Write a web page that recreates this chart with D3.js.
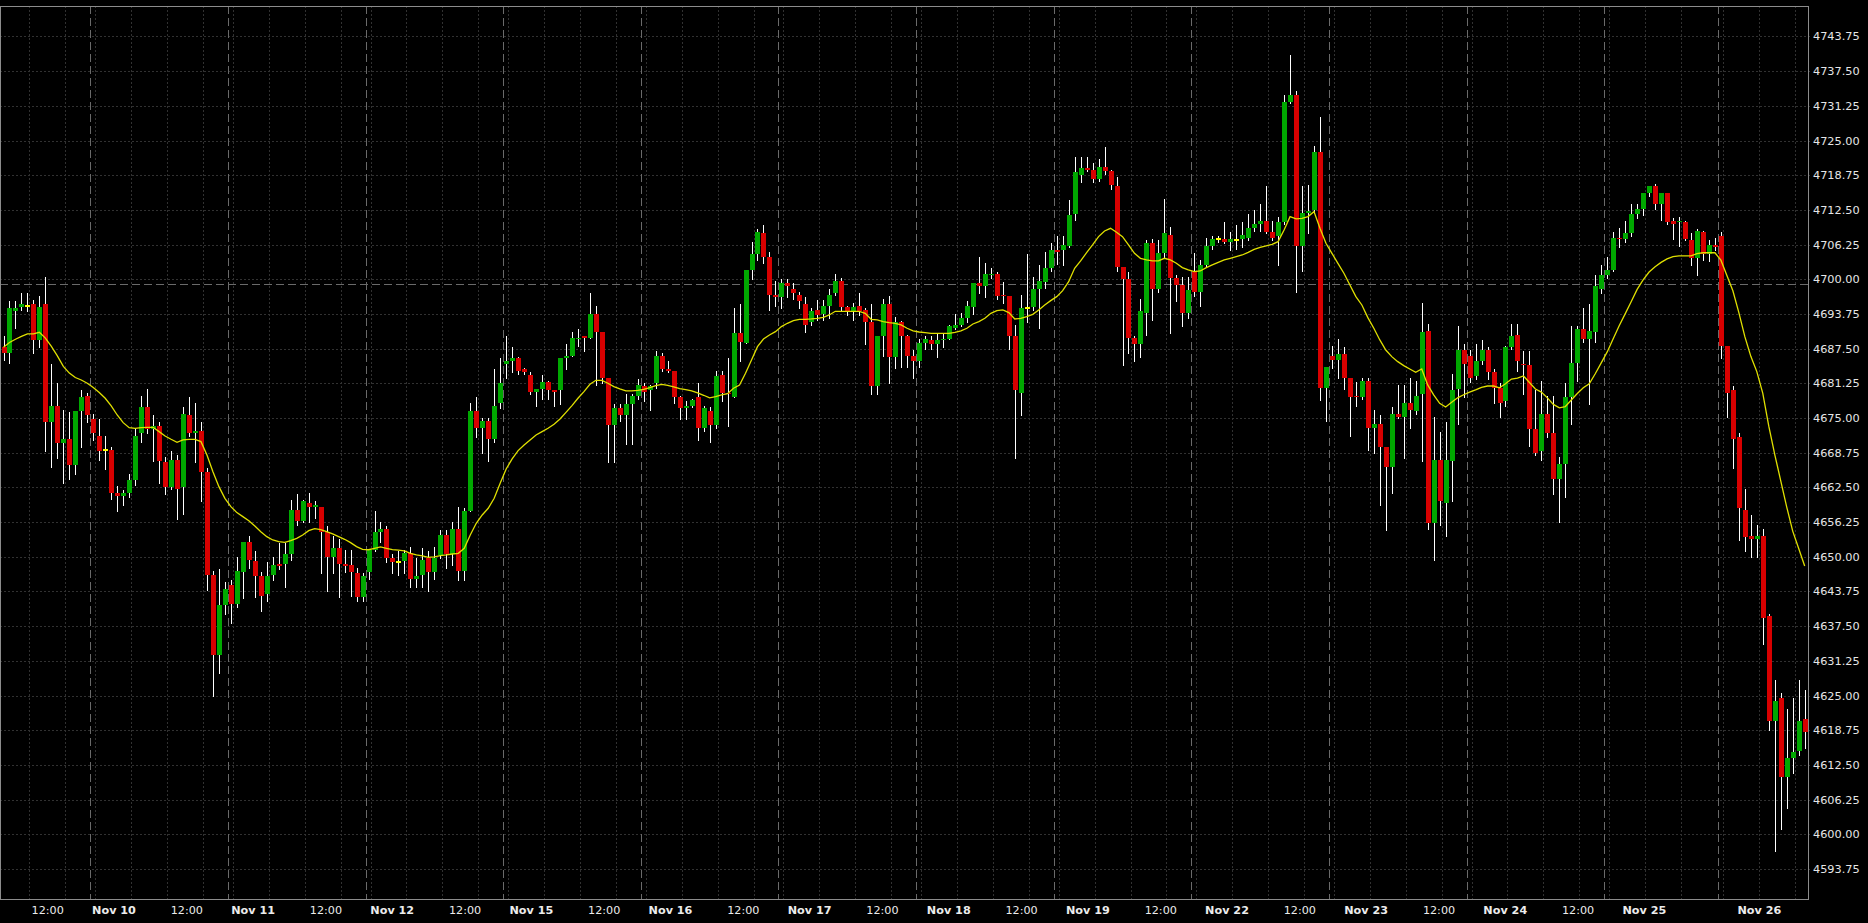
<!DOCTYPE html>
<html><head><meta charset="utf-8">
<script src="https://cdn.jsdelivr.net/npm/d3@7"></script>
<style>html,body{margin:0;padding:0;background:#000;overflow:hidden}</style>
</head><body><svg id="c" width="1868" height="923"></svg>
<script>
// ---- data (hourly bars, ES futures, Nov 9 - Nov 26) ----
const opens=[
4687.75,4686.75,4694.25,4695.0,4695.25,4695.5,4689.0,4695.5,4674.25,4677.25,
4670.5,4671.25,4666.5,4676.25,4679.0,4674.75,4671.75,4669.25,4669.25,4661.5,
4661.0,4661.5,4663.75,4672.25,4677.0,4673.0,4673.5,4667.0,4662.5,4667.5,
4662.5,4675.5,4672.25,4672.75,4665.25,4646.75,4632.25,4641.25,4645.0,4641.5,
4647.25,4652.75,4649.25,4646.5,4643.25,4646.75,4648.75,4648.75,4650.5,4658.5,
4656.5,4659.75,4659.0,4659.0,4654.5,4650.0,4651.5,4648.75,4648.5,4647.0,
4642.75,4647.25,4651.25,4654.5,4655.0,4649.75,4649.0,4649.25,4650.75,4646.0,
4646.75,4649.75,4647.25,4650.25,4654.0,4650.5,4655.0,4647.5,4658.25,4676.25,
4673.25,4674.5,4671.25,4677.75,4684.75,4685.25,4685.75,4683.75,4682.75,4679.75,
4680.25,4681.5,4680.0,4680.0,4685.75,4686.25,4689.25,4689.75,4689.5,4693.75,
4690.5,4682.25,4673.75,4676.75,4675.5,4677.5,4679.0,4680.75,4680.0,4681.25,
4686.25,4683.75,4683.5,4678.75,4676.75,4677.25,4678.75,4673.25,4676.25,4673.75,
4682.75,4679.5,4678.75,4690.25,4688.5,4701.75,4704.5,4708.25,4704.0,4697.25,
4696.75,4699.25,4698.25,4697.25,4695.5,4692.25,4694.5,4693.75,4695.25,4697.5,
4699.75,4695.0,4694.25,4695.25,4694.5,4692.25,4680.75,4689.75,4695.5,4686.0,
4692.25,4689.75,4686.25,4685.25,4688.5,4689.0,4688.25,4689.0,4689.25,4691.25,
4691.75,4693.0,4695.0,4699.25,4698.75,4700.75,4701.0,4697.25,4697.0,4689.75,
4679.5,4694.75,4695.0,4698.25,4699.5,4702.0,4705.25,4705.25,4706.0,4711.75,
4718.75,4720.0,4719.75,4718.0,4720.25,4719.5,4716.75,4702.25,4700.0,4689.5,
4688.25,4694.0,4706.5,4698.25,4704.75,4708.0,4700.25,4699.0,4694.0,4701.25,
4697.75,4702.5,4706.0,4707.25,4707.25,4706.75,4707.0,4707.25,4707.5,4709.25,
4710.0,4710.5,4708.5,4707.75,4710.25,4732.0,4733.25,4706.0,4712.0,4712.5,
4723.0,4680.5,4686.25,4685.5,4686.5,4682.25,4679.0,4678.75,4681.75,4673.25,
4674.0,4669.75,4666.25,4675.75,4675.25,4677.75,4676.25,4679.25,4690.75,4656.0,
4667.5,4659.75,4667.25,4680.25,4687.25,4686.25,4682.5,4685.25,4687.25,4683.25,
4680.5,4678.0,4687.75,4690.0,4684.75,4684.5,4673.0,4669.0,4675.75,4672.25,
4664.0,4666.75,4678.75,4685.0,4691.0,4689.25,4690.5,4698.25,4700.75,4701.75,
4707.5,4707.25,4708.25,4711.75,4712.75,4715.5,4716.75,4713.5,4715.5,4710.5,
4710.25,4710.25,4707.0,4703.75,4708.5,4704.5,4706.25,4707.75,4688.0,4680.0,
4671.5,4658.5,4653.75,4653.25,4653.75,4639.25,4620.5,4624.5,4610.25,4613.75,
4615.0,4620.75];
const highs=[
4689.75,4696.0,4696.0,4697.5,4697.5,4696.25,4697.0,4700.5,4684.75,4681.25,
4676.5,4676.0,4676.25,4680.0,4679.5,4675.75,4674.75,4671.75,4669.75,4662.75,
4662.0,4665.0,4673.0,4679.0,4680.25,4675.5,4674.25,4668.0,4669.0,4668.25,
4677.0,4678.75,4677.75,4674.25,4666.0,4647.5,4647.75,4645.5,4645.75,4650.0,
4652.75,4653.75,4651.0,4647.25,4649.0,4650.0,4652.5,4652.5,4660.25,4661.25,
4660.25,4661.5,4660.0,4659.0,4655.5,4653.75,4653.25,4651.25,4651.25,4648.0,
4647.0,4651.25,4658.25,4656.25,4655.5,4650.5,4651.0,4651.25,4651.75,4649.75,
4651.5,4651.0,4651.75,4654.75,4654.75,4656.25,4659.0,4658.75,4677.75,4678.75,
4675.0,4675.0,4683.75,4685.75,4689.75,4687.75,4686.0,4684.0,4683.25,4680.25,
4682.75,4681.75,4680.0,4685.75,4688.25,4690.5,4691.0,4689.75,4697.5,4695.25,
4690.5,4682.25,4677.5,4677.5,4679.25,4679.25,4682.0,4681.25,4681.0,4687.0,
4686.75,4685.25,4683.5,4679.0,4678.0,4678.5,4681.25,4677.25,4677.0,4683.5,
4683.5,4685.75,4694.75,4695.5,4701.75,4706.75,4709.0,4709.75,4705.0,4699.75,
4700.0,4700.0,4699.25,4697.75,4696.75,4694.75,4696.25,4696.25,4698.25,4701.0,
4700.25,4695.25,4695.75,4697.5,4694.75,4695.5,4689.75,4696.5,4697.0,4693.25,
4692.5,4690.0,4687.25,4689.25,4689.75,4689.75,4690.25,4690.25,4691.75,4693.75,
4694.0,4696.0,4699.25,4704.0,4703.0,4702.0,4701.25,4699.5,4697.0,4691.75,
4697.25,4704.5,4700.5,4702.5,4705.0,4706.5,4707.75,4707.75,4714.25,4722.0,
4722.0,4722.0,4721.0,4721.75,4723.75,4719.75,4718.5,4702.25,4701.25,4689.75,
4696.5,4707.0,4707.25,4707.0,4714.5,4709.5,4700.75,4700.5,4700.5,4704.75,
4703.5,4707.5,4707.75,4707.75,4710.25,4708.5,4709.75,4710.25,4711.75,4712.5,
4713.5,4716.75,4710.5,4711.25,4733.25,4740.5,4734.0,4716.75,4717.0,4724.0,
4729.25,4684.25,4688.0,4689.25,4687.75,4682.25,4681.5,4682.25,4682.25,4676.5,
4675.5,4669.75,4677.0,4681.0,4681.0,4682.25,4681.75,4695.75,4692.0,4675.25,
4672.5,4674.25,4683.0,4691.5,4688.25,4687.25,4688.25,4689.0,4687.75,4683.75,
4681.25,4688.0,4692.0,4692.0,4687.0,4687.0,4680.0,4681.75,4679.0,4679.0,
4668.0,4681.25,4691.5,4691.5,4694.75,4695.5,4700.75,4702.5,4704.0,4708.5,
4709.25,4710.5,4713.5,4713.5,4715.5,4716.75,4717.25,4715.5,4715.5,4711.0,
4711.25,4710.5,4708.25,4709.0,4708.75,4707.0,4707.5,4708.5,4688.0,4680.75,
4672.25,4662.25,4657.5,4655.75,4655.0,4639.75,4627.75,4625.5,4622.5,4624.5,
4627.75,4626.0];
const lows=[
4685.5,4685.0,4691.25,4694.5,4694.25,4686.75,4687.75,4669.0,4666.25,4667.75,
4663.25,4664.0,4665.0,4669.75,4674.25,4671.0,4667.5,4665.75,4660.5,4658.25,
4659.25,4660.75,4663.0,4670.75,4672.25,4667.25,4663.25,4661.25,4662.25,4656.75,
4657.75,4671.75,4667.0,4660.0,4644.0,4625.0,4629.0,4639.75,4638.0,4641.0,
4642.5,4648.0,4642.75,4640.25,4642.0,4645.75,4647.75,4644.5,4649.5,4655.75,
4656.25,4656.25,4657.0,4647.0,4643.75,4647.0,4642.75,4647.25,4643.0,4642.0,
4642.0,4646.0,4651.0,4652.75,4649.0,4647.0,4646.75,4647.0,4644.5,4644.5,
4644.5,4643.75,4646.0,4649.75,4648.0,4648.5,4645.75,4645.75,4658.25,4671.5,
4668.75,4667.25,4670.75,4676.75,4682.25,4683.25,4683.0,4683.0,4679.25,4677.25,
4678.5,4678.5,4677.25,4677.5,4683.75,4686.25,4688.0,4687.0,4689.5,4681.0,
4681.25,4667.0,4667.0,4674.5,4670.25,4670.25,4678.5,4678.0,4676.5,4680.5,
4683.5,4683.25,4677.75,4674.75,4674.75,4677.0,4671.0,4672.75,4670.75,4673.25,
4678.0,4673.5,4678.75,4685.25,4688.5,4700.0,4703.5,4703.0,4694.5,4695.25,
4694.75,4696.75,4696.5,4694.75,4690.5,4691.75,4692.75,4692.75,4693.0,4697.25,
4694.25,4693.5,4692.75,4693.5,4688.25,4679.25,4679.25,4686.25,4681.25,4684.0,
4684.25,4684.25,4682.25,4684.25,4687.5,4687.5,4686.0,4687.75,4689.25,4691.0,
4691.5,4692.25,4693.75,4697.5,4696.75,4700.25,4696.5,4695.75,4687.5,4667.75,
4675.5,4692.25,4694.5,4691.25,4698.5,4701.5,4702.75,4702.5,4705.75,4710.75,
4717.5,4719.5,4717.5,4717.75,4719.0,4716.25,4701.5,4684.5,4686.75,4685.25,
4686.0,4690.0,4692.75,4697.75,4704.0,4690.25,4696.0,4691.5,4693.0,4697.0,
4695.25,4702.25,4705.5,4706.75,4706.5,4705.25,4705.5,4705.75,4707.0,4708.75,
4708.75,4708.25,4707.0,4702.5,4710.0,4731.75,4697.75,4701.5,4708.25,4712.0,
4678.25,4674.5,4684.0,4682.25,4680.25,4671.75,4677.25,4678.5,4669.25,4668.75,
4659.25,4654.75,4661.5,4675.0,4667.75,4673.25,4675.75,4667.25,4655.0,4649.5,
4655.75,4653.75,4660.0,4674.0,4678.75,4681.5,4682.0,4684.75,4682.0,4677.75,
4675.25,4677.25,4687.5,4683.5,4679.25,4670.0,4668.25,4667.5,4671.5,4661.25,
4656.25,4660.75,4674.0,4681.75,4688.75,4677.5,4688.75,4697.5,4700.25,4701.5,
4705.75,4706.75,4707.75,4711.0,4711.5,4715.0,4712.75,4710.75,4710.0,4707.25,
4706.0,4707.0,4702.5,4700.75,4703.5,4703.25,4705.25,4685.75,4675.25,4666.0,
4653.0,4651.0,4650.0,4650.0,4634.25,4618.75,4597.0,4601.0,4604.75,4611.0,
4614.25,4615.5];
const closes=[
4686.75,4694.75,4694.75,4695.5,4695.25,4689.0,4695.0,4674.25,4677.25,4670.5,
4671.25,4666.5,4676.25,4678.75,4675.5,4672.25,4669.0,4669.25,4661.5,4661.0,
4661.5,4663.75,4671.75,4677.0,4673.0,4673.5,4667.25,4662.5,4667.5,4662.25,
4675.75,4672.25,4672.75,4665.25,4646.75,4632.25,4641.25,4644.25,4641.5,4647.5,
4652.75,4649.5,4646.5,4643.0,4646.5,4648.5,4648.25,4650.5,4658.5,4656.5,
4660.0,4659.0,4659.25,4654.5,4650.0,4651.5,4648.75,4648.25,4647.25,4642.75,
4646.5,4651.25,4654.5,4655.0,4649.75,4649.0,4649.0,4650.75,4646.0,4646.5,
4649.5,4647.25,4649.75,4654.0,4650.5,4655.0,4647.5,4658.25,4676.25,4673.25,
4674.5,4671.25,4677.25,4681.25,4685.25,4685.75,4683.5,4683.25,4679.75,4680.25,
4681.5,4680.0,4679.75,4685.75,4686.25,4689.5,4689.5,4689.5,4693.75,4690.5,
4682.25,4673.75,4676.75,4675.5,4677.5,4679.0,4681.0,4679.75,4680.75,4686.25,
4683.75,4683.5,4678.75,4676.75,4677.25,4678.25,4673.25,4676.75,4673.75,4682.5,
4679.5,4679.25,4690.25,4688.75,4701.75,4704.5,4708.5,4704.0,4697.25,4696.75,
4699.25,4698.75,4697.5,4696.0,4691.75,4694.25,4693.5,4695.25,4697.25,4699.75,
4695.0,4694.25,4695.0,4694.25,4692.25,4680.75,4689.75,4695.5,4686.0,4692.25,
4689.75,4686.25,4685.25,4688.5,4689.25,4688.25,4689.0,4689.25,4691.5,4691.75,
4693.0,4695.25,4699.25,4698.75,4701.0,4701.0,4697.0,4697.0,4689.75,4680.0,
4694.75,4694.75,4698.25,4699.75,4702.0,4705.25,4705.0,4706.25,4711.5,4719.25,
4720.0,4719.75,4718.0,4720.25,4719.5,4717.0,4702.25,4700.0,4689.5,4688.25,
4694.25,4706.5,4698.25,4704.75,4708.25,4700.25,4699.0,4694.0,4698.0,4697.75,
4702.5,4706.0,4707.25,4707.25,4706.75,4707.25,4707.0,4708.0,4709.25,4710.0,
4710.5,4708.5,4707.5,4710.25,4732.0,4733.25,4706.0,4712.0,4712.25,4723.0,
4680.5,4684.25,4685.5,4686.5,4682.25,4678.75,4678.75,4681.75,4673.25,4674.0,
4669.75,4666.25,4675.75,4675.25,4677.75,4676.5,4679.0,4690.5,4656.0,4667.5,
4660.0,4667.5,4680.0,4687.25,4684.75,4682.25,4685.25,4687.25,4683.25,4680.5,
4677.75,4687.75,4689.75,4685.25,4684.5,4673.0,4668.75,4675.75,4672.25,4664.0,
4666.75,4678.75,4685.0,4691.0,4689.25,4690.75,4698.75,4700.75,4701.75,4707.5,
4707.25,4708.25,4711.75,4712.75,4715.5,4716.75,4713.5,4715.5,4710.25,4710.0,
4710.5,4707.25,4703.75,4708.75,4704.5,4706.25,4705.75,4688.0,4679.5,4671.25,
4658.75,4653.5,4653.25,4653.75,4639.0,4620.5,4624.0,4610.25,4613.75,4614.75,
4620.5,4618.5];
// moving average (yellow line)
const maValues=[
4687.75,4688.6,4689.2,4689.7,4690.15,4690.15,4690.45,4689.4,4687.9,4686.2,
4684.3,4683.1,4682.3,4681.85,4681.26,4680.5,4679.6,4678.56,4677.2,4675.55,
4674.17,4673.27,4673.15,4673.27,4673.33,4673.33,4672.55,4671.77,4671.17,4670.63,
4671.05,4671.17,4671.17,4670.75,4668.35,4665.34,4662.64,4660.54,4659.04,4657.96,
4657.24,4656.5,4655.55,4654.53,4653.63,4653.03,4652.73,4652.6,4652.91,4653.33,
4653.93,4654.71,4655.07,4654.9,4654.53,4654.11,4653.63,4653.15,4652.55,4651.83,
4651.35,4651.27,4651.53,4651.77,4651.5,4651.3,4651.2,4651.05,4650.63,4650.33,
4650.15,4649.9,4650.0,4650.2,4650.33,4650.5,4650.63,4651.53,4653.93,4656.03,
4657.53,4658.74,4660.54,4663.24,4665.82,4667.63,4669.13,4670.15,4671.05,4671.95,
4672.55,4673.15,4673.87,4674.83,4676.03,4677.24,4678.56,4679.76,4681.08,4681.8,
4681.8,4681.26,4680.66,4680.24,4679.88,4679.88,4680.0,4680.18,4680.48,4680.84,
4681.08,4680.9,4680.6,4680.3,4680.12,4679.88,4679.52,4679.1,4678.62,4678.86,
4679.16,4679.4,4680.36,4680.96,4683.06,4685.46,4687.86,4689.24,4689.96,4690.56,
4691.47,4692.07,4692.55,4692.79,4692.79,4692.85,4692.97,4693.15,4693.57,4694.23,
4694.23,4694.23,4694.23,4694.23,4693.87,4692.79,4692.67,4692.37,4692.19,4692.07,
4691.77,4691.17,4690.69,4690.5,4690.39,4690.27,4690.27,4690.27,4690.27,4690.45,
4690.69,4691.17,4691.95,4692.37,4692.97,4693.87,4694.35,4694.47,4693.99,4692.85,
4692.97,4693.27,4693.69,4694.47,4695.37,4696.15,4696.87,4697.95,4699.57,4701.98,
4703.3,4704.8,4706.18,4707.69,4708.7,4709.18,4708.46,4707.69,4706.18,4704.68,
4703.78,4703.48,4703.3,4703.3,4703.78,4703.48,4702.88,4702.1,4701.68,4701.38,
4701.5,4702.1,4702.58,4703.06,4703.48,4703.78,4704.08,4704.38,4704.86,4705.4,
4705.76,4706.0,4706.3,4706.78,4708.88,4711.29,4710.87,4710.99,4711.29,4712.19,
4709.18,4706.48,4704.68,4702.88,4701.08,4698.98,4696.87,4695.37,4693.09,4691.17,
4689.07,4687.26,4686.06,4685.16,4684.44,4683.84,4683.24,4683.84,4680.96,4679.16,
4677.65,4677.0,4677.86,4678.64,4679.2,4679.67,4680.06,4680.53,4680.77,4680.77,
4680.45,4681.16,4682.03,4682.19,4682.58,4681.4,4680.22,4679.67,4678.64,4677.46,
4676.83,4677.07,4678.25,4679.43,4680.45,4681.16,4682.97,4684.94,4686.91,4689.27,
4691.63,4693.76,4695.96,4698.17,4699.9,4701.31,4702.26,4703.05,4703.68,4704.07,
4704.23,4704.23,4704.23,4704.62,4704.78,4704.78,4704.78,4703.44,4700.68,4697.93,
4694.0,4689.66,4686.12,4683.37,4679.43,4673.53,4668.41,4663.69,4658.96,4654.63,
4651.48,4648.33];
// session days: label and index of first bar
const dayLabels=["Nov 9","Nov 10","Nov 11","Nov 12","Nov 15","Nov 16","Nov 17","Nov 18","Nov 19","Nov 22","Nov 23","Nov 24","Nov 25","Nov 26"];
const dayStarts=[-8,15,38,61,84,107,130,153,176,199,222,245,268,287];
const noonLabelDays=["Nov 9","Nov 10","Nov 11","Nov 12","Nov 15","Nov 16","Nov 17","Nov 18","Nov 19","Nov 22","Nov 23","Nov 24"];
const priceTicks=[4593.75,4600.00,4606.25,4612.50,4618.75,4625.00,4631.25,4637.50,4643.75,4650.00,4656.25,4662.50,4668.75,4675.00,4681.25,4687.50,4693.75,4700.00,4706.25,4712.50,4718.75,4725.00,4731.25,4737.50,4743.75];
const levelLine=4699.1;

// ---- layout ----
const L=0,T=6,R=1808,B=899;
const n=closes.length;
const step=5.984;
const x=d3.scaleLinear().domain([0,n-1]).range([3.5,3.5+step*(n-1)]);
const y=d3.scaleLinear().domain([4588.34,4749.24]).range([B,T]);
const labelX=d3.scaleLinear().domain([15,287]).range([92.1,92.1+272*6.049]);

const svg=d3.select("#c");
svg.append("rect").attr("width",1868).attr("height",923).attr("fill","#000");
const gridCol="#313131";
const plotG=svg.append("g").attr("shape-rendering","crispEdges");
// horizontal grid
plotG.selectAll("line.hg").data(priceTicks).join("line")
 .attr("x1",L).attr("x2",R+4).attr("y1",d=>Math.round(y(d))+0.5).attr("y2",d=>Math.round(y(d))+0.5)
 .attr("stroke",gridCol).attr("stroke-dasharray","2,2").attr("stroke-width",1);
// vertical grid
const vg=[];
dayStarts.forEach((s,di)=>{
  const sep=x(s-0.5);
  const next=di<dayStarts.length-1?x(dayStarts[di+1]-0.5):R;
  for(let j=0;j<4;j++){const xx=sep+5+6*step*j; if(xx>L&&xx<next-3&&xx<R) vg.push(xx);}
});
plotG.selectAll("line.vg").data(vg).join("line")
 .attr("x1",d=>Math.round(d)+0.5).attr("x2",d=>Math.round(d)+0.5).attr("y1",T).attr("y2",B)
 .attr("stroke",gridCol).attr("stroke-dasharray","2,2");
// day separators
plotG.selectAll("line.sep").data(dayStarts.slice(1)).join("line")
 .attr("x1",d=>Math.round(x(d-0.5))+0.5).attr("x2",d=>Math.round(x(d-0.5))+0.5).attr("y1",T).attr("y2",B)
 .attr("stroke","#6a6a6a").attr("stroke-dasharray","8,4");
// level line
plotG.append("line").attr("x1",L).attr("x2",R).attr("y1",Math.round(y(levelLine))+0.5).attr("y2",Math.round(y(levelLine))+0.5)
 .attr("stroke","#6a6a6a").attr("stroke-dasharray","8,4");

// candles
const idx=d3.range(n);
const cg=svg.append("g").attr("shape-rendering","crispEdges");
cg.selectAll("line.w").data(idx).join("line")
 .attr("x1",i=>Math.round(x(i))+0.5).attr("x2",i=>Math.round(x(i))+0.5)
 .attr("y1",i=>Math.round(y(highs[i]))).attr("y2",i=>Math.round(y(lows[i]))+1)
 .attr("stroke","#ffffff").attr("stroke-width",1);
cg.selectAll("rect.b").data(idx).join("rect")
 .attr("x",i=>Math.round(x(i))-2).attr("width",5)
 .attr("y",i=>{const top=Math.round(y(Math.max(opens[i],closes[i])));return opens[i]===closes[i]?top-1:top;})
 .attr("height",i=>opens[i]===closes[i]?2:Math.max(1,Math.round(y(Math.min(opens[i],closes[i])))-Math.round(y(Math.max(opens[i],closes[i])))))
 .attr("fill",i=>closes[i]>opens[i]?"#00a800":(closes[i]<opens[i]?"#d80000":"#ffff00"));

// moving average
svg.append("path").datum(idx)
 .attr("d",d3.line().x(i=>x(i)).y(i=>y(maValues[i])))
 .attr("fill","none").attr("stroke","#e0e000").attr("stroke-width",1.3);

// frame
svg.append("rect").attr("x",L+0.5).attr("y",T+0.5).attr("width",R-L).attr("height",B-T)
 .attr("fill","none").attr("stroke","#8c8c8c").attr("shape-rendering","crispEdges");

// price labels
svg.selectAll("text.p").data(priceTicks).join("text")
 .attr("x",1813).attr("y",d=>y(d)+4)
 .attr("fill","#e6e6e6").attr("font-family","DejaVu Sans, sans-serif").attr("font-size","11.3px")
 .text(d=>d3.format(".2f")(d));

// time labels
const tl=svg.append("g").attr("font-family","DejaVu Sans, sans-serif").attr("font-size","11.2px").attr("fill","#ececec");
dayLabels.forEach((lab,di)=>{
  const s=dayStarts[di];
  if(s>=0) tl.append("text").attr("x",labelX(s)).attr("y",914).attr("font-weight","bold").text(lab);
  if(noonLabelDays.includes(lab)) tl.append("text").attr("x",labelX(s+13)).attr("y",914).text("12:00");
});
</script></body></html>
